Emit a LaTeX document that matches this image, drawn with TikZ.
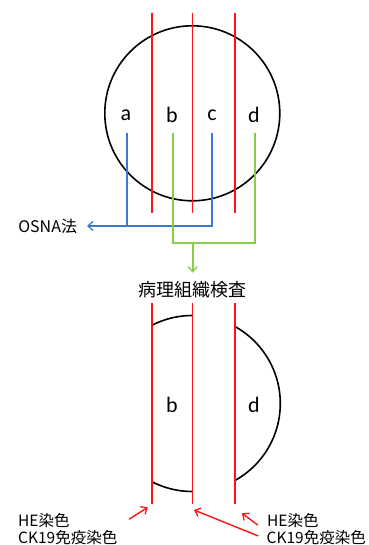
\documentclass[tikz,border=0pt]{standalone}
\usepackage{fontspec}
\setmainfont{Noto Sans CJK JP}
\newfontfamily\latf{Carlito}
\usetikzlibrary{arrows.meta}
\definecolor{redl}{RGB}{255,20,20}
\definecolor{bluel}{RGB}{60,120,205}
\definecolor{greenl}{RGB}{135,205,70}
\tikzset{
  cut/.style={draw=redl, line width=1.6pt},
  outline/.style={draw=black, line width=1.6pt},
  bluew/.style={draw=bluel, line width=1.6pt},
  greenw/.style={draw=greenl, line width=1.6pt},
  tipv/.style={-{Straight Barb[length=5pt,width=9pt,line width=1.3pt]}},
  redarrow/.style={draw=redl, line width=1.4pt, tipv},
  partlabel/.style={font=\latf\fontsize{22}{24}\selectfont, inner sep=0pt},
  txt/.style={font=\fontsize{15.5}{17}\selectfont, inner sep=0pt, anchor=west},
}
\begin{document}
\begin{tikzpicture}[x=1pt,y=-1pt]
\useasboundingbox (0,0) rectangle (368,545);
% ---------- top: whole node ----------
\coordinate (cen) at (192.3,113.3);
\draw[outline] (cen) circle[radius=87.5];
\foreach \n/\x in {l1/151.7,l2/192.3,l3/235}{
  \coordinate (\n t) at (\x,12.7);
  \coordinate (\n b) at (\x,213);
  \draw[cut] (\n t) -- (\n b);
}
\node[partlabel] (a) at (126,115) {a};
\node[partlabel] (b) at (172,115) {b};
\node[partlabel] (c) at (212,115) {c};
\node[partlabel] (d) at (254,115) {d};
% blue: a, c -> OSNA
\coordinate (as) at (127,133);
\coordinate (cs) at (212,133);
\coordinate (aj) at (127,226);
\coordinate (cj) at (212,226);
\node[font=\fontsize{16}{18}\selectfont, inner sep=0pt, outer xsep=10pt, anchor=east] (osna) at (87,226) {OSNA法};
\draw[bluew] (as) -- (aj);
\draw[bluew] (cs) -- (cj) -- (aj);
\draw[bluew, tipv] (aj) -- (osna.east);
% green: b, d -> pathology
\coordinate (bs) at (173,133);
\coordinate (ds) at (255,133);
\coordinate (bj) at (173,243);
\coordinate (dj) at (255,243);
\coordinate (mj) at (192.7,243);
\node[font=\fontsize{18}{20}\selectfont, inner sep=0pt, outer ysep=9pt] (path) at (192.7,290) {病理組織検査};
\draw[greenw] (bs) -- (bj) -- (dj) -- (ds);
\draw[greenw, tipv] (mj) -- (path.north);
% ---------- bottom: slices ----------
\coordinate (cen2) at (192.3,403.5);
\begin{scope}
  \clip (151.7,0) rectangle (192.3,545);
  \draw[outline] (cen2) circle[radius=88];
\end{scope}
\begin{scope}
  \clip (235,0) rectangle (368,545);
  \draw[outline] (cen2) circle[radius=88];
\end{scope}
\foreach \n/\x in {m1/151.7,m2/192.3,m3/235}{
  \coordinate (\n t) at (\x,303);
  \coordinate (\n b) at (\x,504);
  \draw[cut] (\n t) -- (\n b);
}
\node[partlabel] (b2) at (172,405) {b};
\node[partlabel] (d2) at (254,405) {d};
% staining labels
\node[txt] (he1) at (18,521) {HE染色};
\node[txt] (ck1) at (18,537.5) {CK19免疫染色};
\node[txt] (he2) at (267,521) {HE染色};
\node[txt] (ck2) at (266.5,537.5) {CK19免疫染色};
\coordinate (t1) at (129,519.3);
\coordinate (h1) at (147.7,507.3);
\coordinate (t2) at (258.3,536);
\coordinate (h2) at (194,510);
\coordinate (t3) at (257.7,525);
\coordinate (h3) at (242,513.3);
\draw[redarrow] (t1) -- (h1);
\draw[redarrow] (t2) -- (h2);
\draw[redarrow] (t3) -- (h3);
\end{tikzpicture}
\end{document}
